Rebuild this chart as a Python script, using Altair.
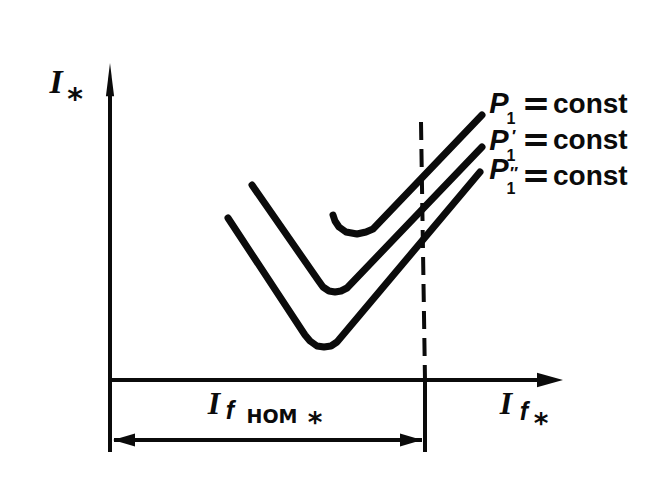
import altair as alt
import pandas as pd

INK = "#0b0b0b"

# ---- V-curves: armature current I* versus field current If* (axis units) ----
p1_x = [223, 225, 229, 236, 247, 256, 263, 372]
p1_y = [165, 159, 153, 148, 146, 148, 151, 265]
p1a_x = [142, 208, 213, 219, 225, 231, 237, 372]
p1a_y = [195, 100, 93, 89, 88, 89, 92, 233]
p1b_x = [118, 195, 200, 207, 214, 221, 227, 370]
p1b_y = [162, 45, 39, 34, 33, 34, 38, 208]

# ---- frame: axes, nominal field current marker, dimension line ----
yaxis_x = [0, 0]
yaxis_y = [-72, 300]
xaxis_x = [0, 440]
xaxis_y = [0, 0]
ifnom_x = [311, 315]          # dashed vertical at If nom
ifnom_y = [258, 0]
ext_x = [315, 315]            # solid extension below axis
ext_y = [0, -72]
dim_x = [4, 312]
dim_y = [-60, -60]

# ---- label texts ----
p_rows_y = [276, 239, 210]
const_rows_y = [275, 239, 203]
sub_rows_y = [261, 224, 191]
prime_text = ["", "′", "″"]
prime_y = [0, 243, 206]

domx = [-102, 534]
domy = [-97, 372]


def X():
    return alt.X("x:Q", scale=alt.Scale(domain=domx), axis=None)


def Y():
    return alt.Y("y:Q", scale=alt.Scale(domain=domy), axis=None)


curves = pd.concat([
    pd.DataFrame({"x": p1_x, "y": p1_y, "c": "P1", "o": range(len(p1_x))}),
    pd.DataFrame({"x": p1a_x, "y": p1a_y, "c": "P1a", "o": range(len(p1a_x))}),
    pd.DataFrame({"x": p1b_x, "y": p1b_y, "c": "P1b", "o": range(len(p1b_x))}),
])

curve_layer = alt.Chart(curves).mark_line(
    color=INK, strokeWidth=7, strokeCap="round", strokeJoin="round"
).encode(x=X(), y=Y(), detail="c:N", order="o:Q")

frame = pd.concat([
    pd.DataFrame({"x": yaxis_x, "y": yaxis_y, "s": "ya"}),
    pd.DataFrame({"x": xaxis_x, "y": xaxis_y, "s": "xa"}),
    pd.DataFrame({"x": ext_x, "y": ext_y, "s": "ext"}),
    pd.DataFrame({"x": dim_x, "y": dim_y, "s": "dim"}),
])
frame_layer = alt.Chart(frame).mark_line(
    color=INK, strokeWidth=4, strokeCap="butt"
).encode(x=X(), y=Y(), detail="s:N")

dash_layer = alt.Chart(pd.DataFrame({"x": ifnom_x, "y": ifnom_y})).mark_line(
    color=INK, strokeWidth=4, strokeDash=[18, 9]
).encode(x=X(), y=Y())


def arrow(x, y, path, size):
    return alt.Chart(pd.DataFrame({"x": [x], "y": [y]})).mark_point(
        shape=path, size=size, filled=True, color=INK, opacity=1, strokeWidth=0
    ).encode(x=X(), y=Y())


arrows = [
    arrow(0, 300, "M0,-1L0.24,0.95L-0.24,0.95Z", 1156),
    arrow(440, 0, "M1,0L-1,-0.55L-1,0.55Z", 676),
    arrow(14, -60, "M-1,0L1,-0.58L1,0.58Z", 484),
    arrow(301, -60, "M1,0L-1,-0.58L-1,0.58Z", 484),
]


def text_layer(texts, xs, ys, font, size, style="normal", weight="bold", align="center"):
    df = pd.DataFrame({"t": texts, "x": xs, "y": ys})
    return alt.Chart(df).mark_text(
        font=font, fontSize=size, fontStyle=style, fontWeight=weight,
        align=align, baseline="middle", color=INK
    ).encode(x=X(), y=Y(), text="t:N")


texts = [
    # y-axis label I*
    text_layer(["I"], [-54], [297], "Liberation Serif", 34, "italic"),
    text_layer(["*"], [-35], [280], "DejaVu Sans", 30),
    # P labels
    text_layer(["P", "P", "P"], [389, 389, 389], p_rows_y, "Liberation Sans", 29, "italic"),
    text_layer(["1", "1", "1"], [401, 401, 401], sub_rows_y, "Liberation Sans", 16),
    text_layer(prime_text, [404, 404, 404], prime_y, "Liberation Sans", 17),
    text_layer(["=", "=", "="], [426, 426, 426], const_rows_y, "DejaVu Sans", 34),
    text_layer(["const", "const", "const"], [443, 443, 443], const_rows_y,
               "Liberation Sans", 28, align="left"),
    # I_f nom*
    text_layer(["I", "I"], [104, 396], [-24, -24], "Liberation Serif", 32, "italic"),
    text_layer(["f", "f"], [120, 414], [-31, -32], "Liberation Sans", 25, "italic"),
    text_layer(["НОМ"], [162], [-37], "DejaVu Sans", 19),
    text_layer(["*", "*"], [205, 431], [-44, -45], "DejaVu Sans", 28),
]

chart = alt.layer(
    frame_layer, dash_layer, curve_layer, *arrows, *texts
).properties(
    width=636, height=469, padding=0, autosize=alt.AutoSizeParams(type="none"),
    background="white"
).configure_view(stroke=None)

chart.save("out.html", embed_options={"renderer": "svg", "actions": False})
